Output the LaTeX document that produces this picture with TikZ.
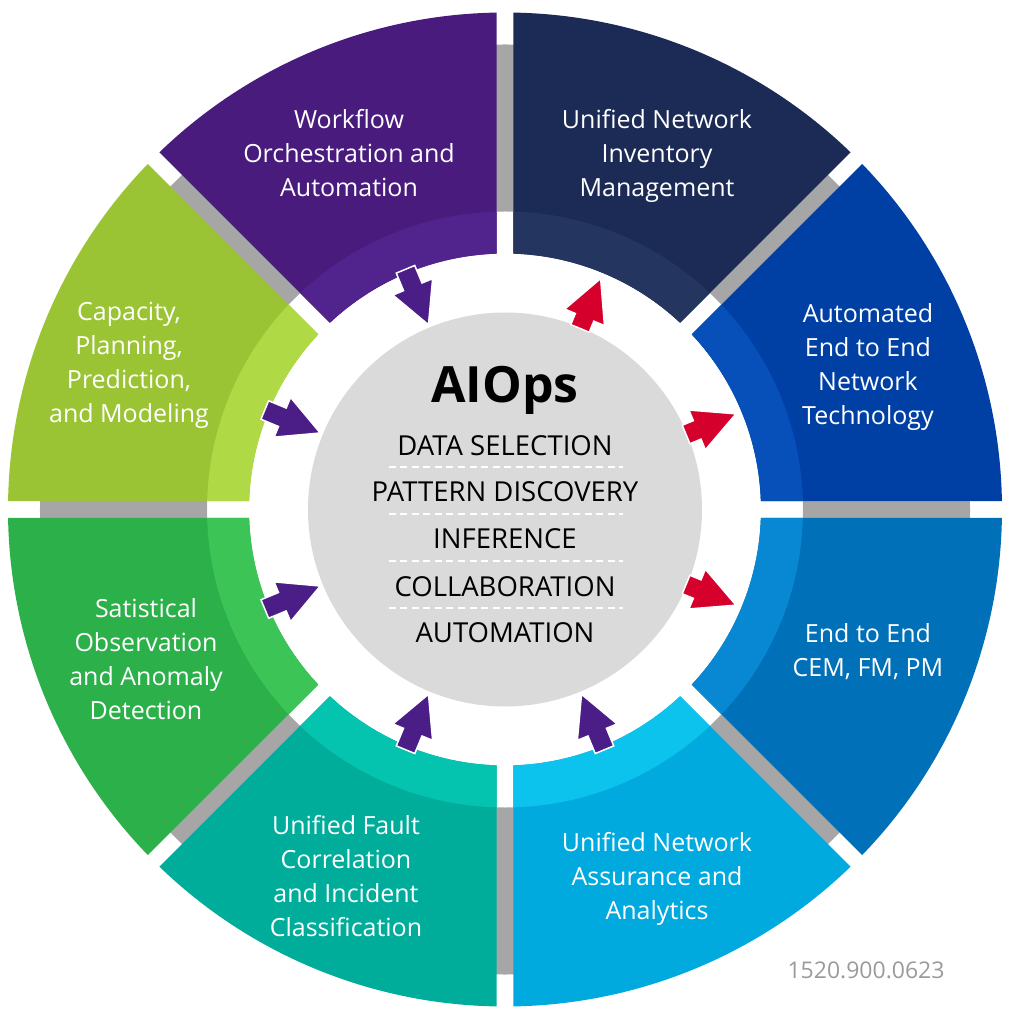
\documentclass[tikz,border=0pt]{standalone}
\usepackage{fontspec}
\setmainfont{Open Sans}
\usetikzlibrary{positioning}
\definecolor{wfpurple}{RGB}{72,27,125}
\definecolor{wfpurpleL}{RGB}{81,36,141}
\definecolor{invnavy}{RGB}{28,43,85}
\definecolor{invnavyL}{RGB}{36,54,96}
\definecolor{autoblue}{RGB}{0,64,165}
\definecolor{autoblueL}{RGB}{7,80,186}
\definecolor{cemblue}{RGB}{0,112,185}
\definecolor{cemblueL}{RGB}{8,136,210}
\definecolor{assurcyan}{RGB}{0,170,223}
\definecolor{assurcyanL}{RGB}{12,195,238}
\definecolor{faultteal}{RGB}{0,173,155}
\definecolor{faulttealL}{RGB}{4,196,175}
\definecolor{statgreen}{RGB}{44,176,74}
\definecolor{statgreenL}{RGB}{60,196,86}
\definecolor{caplime}{RGB}{155,196,52}
\definecolor{caplimeL}{RGB}{176,217,70}
\definecolor{ringgray}{RGB}{166,166,166}
\definecolor{coregray}{RGB}{218,218,218}
\definecolor{arrowred}{RGB}{214,0,45}
\definecolor{arrowpurple}{RGB}{75,29,135}
\definecolor{footgray}{RGB}{154,154,154}
\tikzset{
  lbl/.style={text=white, align=center, font=\fontsize{25}{34}\selectfont},
  item/.style={anchor=base, font=\fontsize{27.5}{30}\selectfont, text=black},
  sep/.style={draw=white, line width=1.2pt, dash pattern=on 7pt off 4.5pt},
  inarrow/.style={fill=arrowpurple, draw=white, line width=1.5pt},
  outarrow/.style={fill=arrowred, draw=white, line width=1.5pt},
}
\begin{document}
\begin{tikzpicture}[x=1pt, y=1pt]
  \useasboundingbox (-505,-504.5) rectangle (509,509.5);
  % gray ring showing through the gaps
  \fill[ringgray, even odd rule] (0,0) circle[radius=465] (0,0) circle[radius=298];
  % eight segments with a lighter inner band
  \foreach \a/\c/\cl in {0/autoblue/autoblueL, 45/invnavy/invnavyL, 90/wfpurple/wfpurpleL,
      135/caplime/caplimeL, 180/statgreen/statgreenL, 225/faultteal/faulttealL,
      270/assurcyan/assurcyanL, 315/cemblue/cemblueL}{
    \fill[\c] (\a+1.858:256) -- (\a+0.957:497)
      arc[start angle=\a+0.957, end angle=\a+44.043, radius=497]
      -- (\a+43.142:256) arc[start angle=\a+43.142, end angle=\a+1.858, radius=256] -- cycle;
    \fill[\cl] (\a+1.858:256) -- (\a+1.596:298)
      arc[start angle=\a+1.596, end angle=\a+43.404, radius=298]
      -- (\a+43.142:256) arc[start angle=\a+43.142, end angle=\a+1.858, radius=256] -- cycle;
  }
  % core
  \node[circle, fill=coregray, minimum size=394, inner sep=0pt] (core) at (0,0) {};
  \node[anchor=base, font=\fontsize{50}{50}\selectfont\bfseries] (title) at (0,106.5) {AIOps};
  \foreach \y/\txt/\nm in {53.5/DATA SELECTION/data, 7.5/PATTERN DISCOVERY/pattern,
      -39.5/INFERENCE/inference, -86.5/COLLABORATION/collab, -132.5/AUTOMATION/autom}
    \node[item] (\nm) at (0,\y) {\txt};
  \foreach \y in {42.5,-4.5,-51.5,-98.5}
    \draw[sep] (-116,\y) -- (118,\y);
  % arrows into the core
  \foreach \m in {112.5,157.5,202.5,247.5,292.5}
    \filldraw[inarrow, rotate=\m] (260,10) -- (241,10) -- (241,21.5) -- (200,0)
      -- (241,-21.5) -- (241,-10) -- (260,-10) -- cycle;
  % arrows out of the core
  \foreach \m in {22.5,67.5,337.5}
    \filldraw[outarrow, rotate=\m] (196,10) -- (208,10) -- (208,21.5) -- (250,0)
      -- (208,-21.5) -- (208,-10) -- (196,-10) -- cycle;
  % segment labels
  \node[lbl] (workflow) at (-156,356.5) {Workflow\\Orchestration and\\Automation};
  \node[lbl] (inventory) at (152,354) {Unified Network\\Inventory\\Management};
  \node[lbl] (automated) at (363,142) {Automated\\End to End\\Network\\Technology};
  \node[lbl] (cem) at (363,-142.5) {End to End\\CEM, FM, PM};
  \node[lbl] (assurance) at (152,-369.5) {Unified Network\\Assurance and\\Analytics};
  \node[lbl] (fault) at (-159,-366.5) {Unified Fault\\Correlation\\and Incident\\Classification};
  \node[lbl] (anomaly) at (-359,-149.5) {Satistical\\Observation\\and Anomaly\\Detection};
  \node[lbl] (capacity) at (-376,144.5) {Capacity,\\Planning,\\Prediction,\\and Modeling};
  \node[anchor=base, text=footgray, font=\fontsize{23}{28}\selectfont] (code) at (361,-468.5) {1520.900.0623};
\end{tikzpicture}
\end{document}
